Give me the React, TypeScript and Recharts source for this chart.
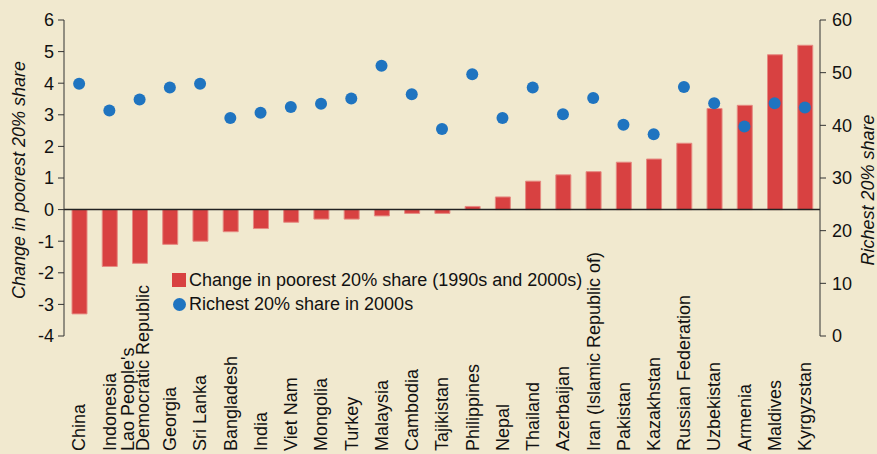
import React from 'react';
import {
  ComposedChart,
  Bar,
  Line,
  XAxis,
  YAxis,
  Legend,
  ReferenceLine,
} from 'recharts';

const countries = [
  'China',
  'Indonesia',
  "Lao People's\nDemocratic Republic",
  'Georgia',
  'Sri Lanka',
  'Bangladesh',
  'India',
  'Viet Nam',
  'Mongolia',
  'Turkey',
  'Malaysia',
  'Cambodia',
  'Tajikistan',
  'Philippines',
  'Nepal',
  'Thailand',
  'Azerbaijan',
  'Iran (Islamic Republic of)',
  'Pakistan',
  'Kazakhstan',
  'Russian Federation',
  'Uzbekistan',
  'Armenia',
  'Maldives',
  'Kyrgyzstan',
];

// change in poorest 20% share, percentage points (left axis)
const poorestChange = [
  -3.3, -1.8, -1.7, -1.1, -1.0, -0.7, -0.6, -0.4, -0.3, -0.3, -0.2, -0.12,
  -0.12, 0.1, 0.4, 0.9, 1.1, 1.2, 1.5, 1.6, 2.1, 3.2, 3.3, 4.9, 5.2,
];

// richest 20% share in 2000s, % (right axis)
const richestShare = [
  47.9, 42.8, 44.9, 47.2, 47.9, 41.4, 42.4, 43.5, 44.1, 45.1, 51.3, 45.9,
  39.3, 49.7, 41.4, 47.2, 42.1, 45.2, 40.1, 38.3, 47.3, 44.2, 39.8, 44.2, 43.4,
];

const leftTicks = [-4, -3, -2, -1, 0, 1, 2, 3, 4, 5, 6];
const rightTicks = [0, 10, 20, 30, 40, 50, 60];

const seriesNames = [
  'Change in poorest 20% share (1990s and 2000s)',
  'Richest 20% share in 2000s',
];

const data = countries.map((country, i) => ({
  country,
  poorest: poorestChange[i],
  richest: richestShare[i],
}));

const FONT = '"Liberation Sans", Arial, sans-serif';
const FS = 18;
const BG = '#F1E9CF';
const RED = '#D84141';
const BLUE = '#1F74C0';
const INK = '#111';

const CountryTick = (props: any) => {
  const { x, payload } = props;
  const lines: string[] = String(payload.value).split('\n');
  return (
    <text
      transform={`translate(${x},451) rotate(-90)`}
      textAnchor="start"
      fontFamily={FONT}
      fontSize={FS}
      fill={INK}
    >
      {lines.length === 1 ? (
        <tspan x={0} dy="0.35em">{lines[0]}</tspan>
      ) : (
        lines.map((l, i) => (
          <tspan key={i} x={0} dy={i === 0 ? -6 : 15}>{l}</tspan>
        ))
      )}
    </text>
  );
};

const axisTitle = (text: string, dx: number, dy: number) => (props: any) => {
  const vb = props.viewBox || { x: 0, y: 0, width: 0, height: 0 };
  const cx = vb.x + dx;
  const cy = vb.y + vb.height / 2 + dy;
  return (
    <text
      transform={`translate(${cx},${cy}) rotate(-90)`}
      textAnchor="middle"
      dy="0.35em"
      fontFamily={FONT}
      fontSize={FS}
      fontStyle="italic"
      fill={INK}
    >
      {text}
    </text>
  );
};

const LegendBox = () => (
  <div style={{ fontFamily: FONT, fontSize: FS, color: INK, lineHeight: '24px' }}>
    <div style={{ display: 'flex', alignItems: 'center', whiteSpace: 'nowrap' }}>
      <span style={{ width: 14, height: 14, background: RED, marginRight: 3, display: 'inline-block' }} />
      {seriesNames[0]}
    </div>
    <div style={{ display: 'flex', alignItems: 'center', whiteSpace: 'nowrap' }}>
      <span
        style={{
          width: 13,
          height: 13,
          borderRadius: '50%',
          background: BLUE,
          marginLeft: 1,
          marginRight: 3,
          display: 'inline-block',
        }}
      />
      {seriesNames[1]}
    </div>
  </div>
);

export default function App() {
  return (
    <div style={{ position: 'absolute', left: 0, top: 0, width: 877, height: 454, background: BG }}>
      <ComposedChart
        width={877}
        height={454}
        data={data}
        margin={{ top: 20, right: 0, bottom: 0, left: 0 }}
        barCategoryGap={0}
      >
        <XAxis
          dataKey="country"
          height={118}
          interval={0}
          tickLine={false}
          axisLine={false}
          tick={<CountryTick />}
        />
        <YAxis
          yAxisId="left"
          orientation="left"
          width={64}
          domain={[-4, 6]}
          ticks={leftTicks}
          interval={0}
          tickSize={6}
          tickMargin={4}
          axisLine={{ stroke: '#333' }}
          tickLine={{ stroke: '#333' }}
          tick={{ fill: INK, fontSize: FS, fontFamily: FONT }}
          label={{ content: axisTitle('Change in poorest 20% share', 19, 2) }}
        />
        <YAxis
          yAxisId="right"
          orientation="right"
          width={57}
          domain={[0, 60]}
          ticks={rightTicks}
          interval={0}
          tickSize={6}
          tickMargin={6}
          axisLine={{ stroke: '#333' }}
          tickLine={{ stroke: '#333' }}
          tick={{ fill: INK, fontSize: FS, fontFamily: FONT }}
          label={{ content: axisTitle('Richest 20% share', 48, 12) }}
        />
        <Bar
          yAxisId="left"
          dataKey="poorest"
          name={seriesNames[0]}
          barSize={15}
          fill={RED}
          stroke="#E68A82"
          strokeWidth={1}
          isAnimationActive={false}
        />
        <ReferenceLine yAxisId="left" y={0} stroke="#222" strokeWidth={1.5} />
        <Line
          yAxisId="right"
          dataKey="richest"
          name={seriesNames[1]}
          stroke="none"
          dot={{ r: 6, fill: BLUE, stroke: 'none' }}
          activeDot={false}
          legendType="circle"
          isAnimationActive={false}
        />
        <Legend
          layout="vertical"
          align="center"
          verticalAlign="middle"
          content={<LegendBox />}
          wrapperStyle={{ left: 172, top: 268, width: 'auto' }}
        />
      </ComposedChart>
    </div>
  );
}
